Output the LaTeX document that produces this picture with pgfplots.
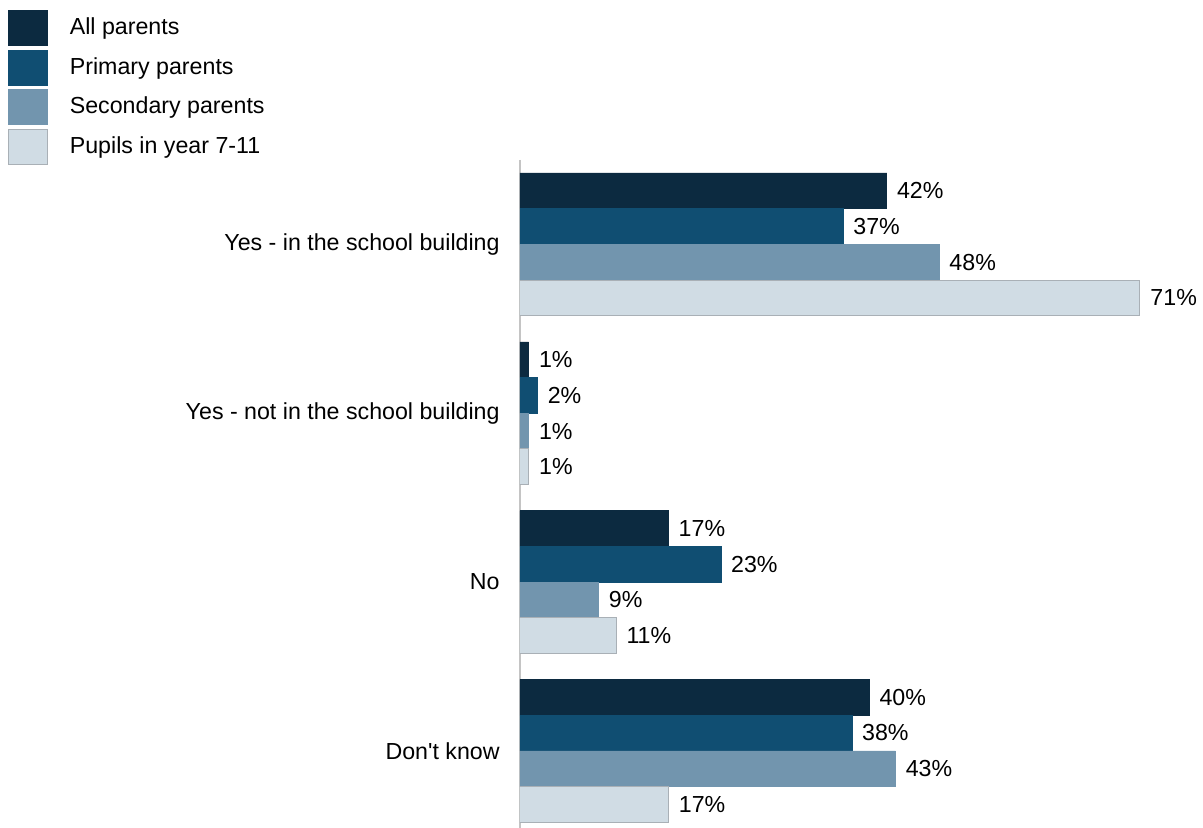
\documentclass[border=0pt]{standalone}
\usepackage{pgfplots}
\pgfplotsset{compat=1.18}
\usepackage{fontspec}
\setmainfont{Liberation Sans}
\definecolor{allp}{HTML}{0C2A40}
\definecolor{prim}{HTML}{104E72}
\definecolor{sec}{HTML}{7295AE}
\definecolor{pup}{HTML}{D0DCE4}
\definecolor{pupb}{HTML}{A9B0B6}
\definecolor{axgrey}{HTML}{C4C4C4}
\newcommand{\fs}{\fontsize{11.6pt}{13pt}\selectfont}
\pgfplotsset{bl/.style={legend image code/.code={\draw[##1] (0pt,-8.75pt) rectangle (19.5pt,8.75pt);}}}
\begin{document}
\begin{tikzpicture}
\begin{axis}[
 scale only axis, width=310pt, height=334pt,
 xbar, xmin=0, xmax=71, ymin=-0.5, ymax=3.457, y dir=reverse,
 axis y line*=left, axis x line=none, xtick=\empty,
 y axis line style={color=axgrey, line width=1pt},
 ytick={0,1,2,3},
 yticklabels={Yes - in the school building, Yes - not in the school building, No, Don\textquotesingle t know},
 major tick length=0pt,
 yticklabel style={inner sep=0pt, xshift=-10pt, font=\fs},
 bar width=0.2115,
 /pgf/number format/assume math mode=true,
 nodes near coords={\pgfmathprintnumber{\pgfplotspointmeta}\%},
 every node near coord/.append style={font=\fs, anchor=west, inner sep=0pt, xshift=5pt, text=black},
 legend style={at={(-0.826,1.2246)}, anchor=north west, draw=none, fill=none, inner sep=0pt, outer sep=0pt, row sep=2pt, font=\fs, cells={anchor=west}, /tikz/every odd column/.append style={column sep=9pt}},
 legend cell align=left,
]
\addplot[bl, fill=allp, draw=allp, line width=0.3pt, bar shift=-0.31725] coordinates {(42,0) (1,1) (17,2) (40,3)};
\addlegendentry{All parents}
\addplot[bl, fill=prim, draw=prim, line width=0.3pt, bar shift=-0.10575] coordinates {(37,0) (2,1) (23,2) (38,3)};
\addlegendentry{Primary parents}
\addplot[bl, fill=sec, draw=sec, line width=0.3pt, bar shift=0.10575] coordinates {(48,0) (1,1) (9,2) (43,3)};
\addlegendentry{Secondary parents}
\addplot[bl, fill=pup, draw=pupb, line width=0.5pt, bar shift=0.31725] coordinates {(71,0) (1,1) (11,2) (17,3)};
\addlegendentry{Pupils in year 7-11}
\end{axis}
\pgfresetboundingbox
\path[use as bounding box] (-260pt,0pt) rectangle (341.5pt,414pt);
\end{tikzpicture}
\end{document}
